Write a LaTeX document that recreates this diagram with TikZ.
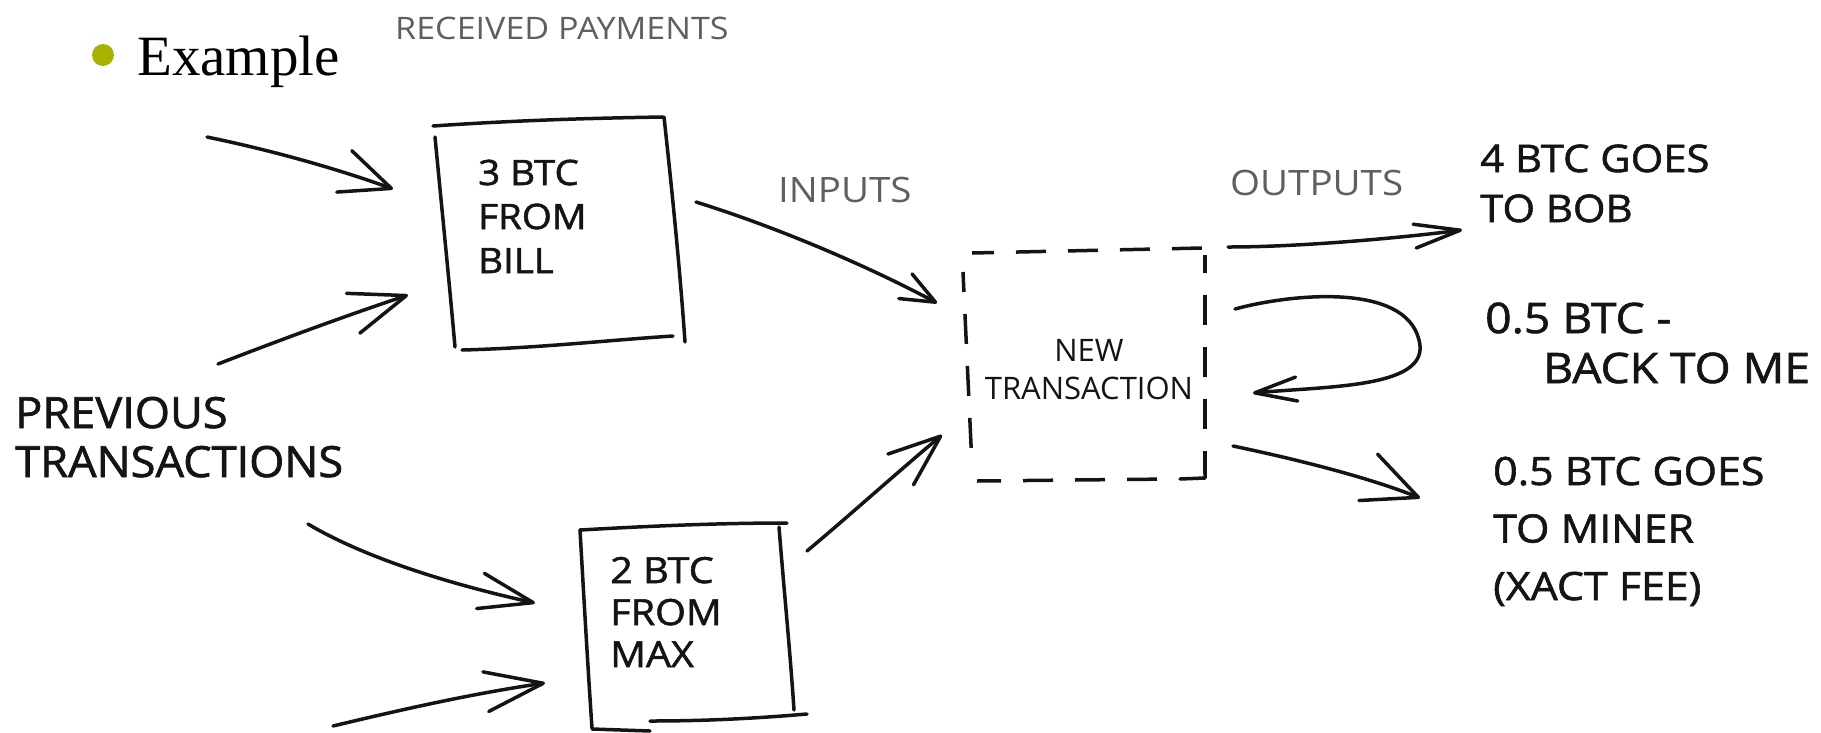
\documentclass[tikz,border=0pt]{standalone}
\usepackage{fontspec}
\setmainfont{Liberation Serif}
\newfontfamily\handfont{Open Sans}[FakeStretch=1.1, FakeBold=1.5]
\newfontfamily\handfontw{Open Sans}[FakeStretch=1.05, FakeBold=1.5]
\newfontfamily\handfontn{Open Sans}
\newfontfamily\captionfont{Open Sans}[FakeStretch=1.1]
\usetikzlibrary{arrows.meta}
\definecolor{bulletolive}{RGB}{168,178,0}
\definecolor{labelgrey}{RGB}{95,95,95}
\definecolor{inkblack}{RGB}{20,20,20}

\tikzset{
  ink/.style={draw=inkblack, line width=3.5pt, line cap=round, line join=round},
  flow/.style 2 args={ink, -{Straight Barb[length=#1pt, width=#2pt, round]}},
  dashedside/.style={ink, line cap=butt, dash pattern=on 30pt off 22pt},
  hand/.style={inner sep=0pt, text=inkblack, anchor=base west},
  greylabel/.style={inner sep=0pt, text=labelgrey, anchor=base west}
}

\begin{document}
\begin{tikzpicture}[x=1pt, y=-1pt]
\useasboundingbox (0,0) rectangle (1821,732);

% heading
\node[circle, fill=bulletolive, minimum size=22pt, inner sep=0pt] (dot) at (103,55) {};
\node[inner sep=0pt, anchor=base west, font=\fontsize{57}{57}\selectfont] (example) at (137,75) {Example};

% captions
\node[greylabel, font={\captionfont\fontsize{31}{32}\selectfont}] (recv) at (395,39) {RECEIVED PAYMENTS};
\node[greylabel, font={\captionfont\fontsize{35}{36}\selectfont}] (inputs) at (778,202) {INPUTS};
\node[greylabel, font={\captionfont\fontsize{35}{36}\selectfont}] (outputs) at (1230,195) {OUTPUTS};

% previous transactions
\node[hand, font={\handfontw\fontsize{43}{49}\selectfont}] (prev) at (15,428)
  {\begin{tabular}[t]{@{}l@{}}PREVIOUS\\TRANSACTIONS\end{tabular}};

% received payment boxes
\draw[ink] (433,126) .. controls (520,120) and (600,118) .. (663,117);
\draw[ink] (664,117) .. controls (672,190) and (680,270) .. (685,342);
\draw[ink] (462,350) .. controls (540,348) and (610,340) .. (673,336);
\draw[ink] (435,137) .. controls (442,210) and (450,290) .. (455,347);
\node[hand, font={\handfont\fontsize{35}{44}\selectfont}] (bill) at (478,185)
  {\begin{tabular}[t]{@{}l@{}}3 BTC\\FROM\\BILL\end{tabular}};

\draw[ink] (580,530) .. controls (650,526) and (720,523) .. (787,523);
\draw[ink] (580,530) .. controls (584,600) and (588,670) .. (592,728);
\draw[ink] (592,729) -- (650,731);
\draw[ink] (650,721) .. controls (710,721) and (760,718) .. (807,714);
\draw[ink] (779,527) .. controls (784,590) and (790,650) .. (794,710);
\node[hand, font={\handfont\fontsize{36}{42}\selectfont}] (max) at (610,583)
  {\begin{tabular}[t]{@{}l@{}}2 BTC\\FROM\\MAX\end{tabular}};

% new transaction (dashed box)
\draw[dashedside, dash phase=8pt] (972,253) -- (1202,248);
\draw[dashedside, dash phase=12pt] (1205,255) -- (1205,474);
\draw[ink] (1205,468) -- (1205,478) -- (1180,479);
\draw[dashedside, dash phase=6pt] (977,481) -- (1172,479);
\draw[dashedside, dash phase=10pt] (963,272) -- (972,466);
\node[inner sep=0pt, text=inkblack, anchor=base, font={\handfontn\fontsize{31}{38}\selectfont}] (ntx) at (1089,361)
  {\begin{tabular}[t]{@{}c@{}}NEW\\TRANSACTION\end{tabular}};

% outcomes
\node[hand, font={\handfont\fontsize{38}{50}\selectfont}] (bob) at (1480,172)
  {\begin{tabular}[t]{@{}l@{}}4 BTC GOES\\TO BOB\end{tabular}};
\node[hand, font={\handfont\fontsize{42}{50}\selectfont}] (back) at (1485,333)
  {\begin{tabular}[t]{@{}l@{}}0.5 BTC -\\\hspace*{58pt}BACK TO ME\end{tabular}};
\node[hand, font={\handfont\fontsize{39}{57.5}\selectfont}] (miner) at (1493,485)
  {\begin{tabular}[t]{@{}l@{}}0.5 BTC GOES\\TO MINER\\(XACT FEE)\end{tabular}};

% connector ends
\coordinate (p1) at (207,137);  \coordinate (b1) at (393,189);
\coordinate (p2) at (218,364);  \coordinate (b2) at (408,295);
\coordinate (p3) at (308,524);  \coordinate (m1) at (535,603);
\coordinate (p4) at (333,726);  \coordinate (m2) at (545,683);
\coordinate (bo) at (696,202);  \coordinate (t1) at (937,303);
\coordinate (mo) at (807,551);  \coordinate (t2) at (942,435);
\coordinate (to1) at (1228,247); \coordinate (r1) at (1462,230);
\coordinate (to2) at (1235,309); \coordinate (r2) at (1253,393);
\coordinate (to3) at (1233,446); \coordinate (r3) at (1420,498);

% inputs
\draw[flow={50}{44}] (p1) .. controls (270,150) and (335,168) .. (b1);
\draw[flow={56}{42}] (p2) .. controls (280,340) and (345,316) .. (b2);
\draw[flow={54}{36}] (p3) .. controls (360,555) and (440,582) .. (m1);
\draw[flow={58}{40}] (p4) .. controls (400,710) and (470,694) .. (m2);
\draw[flow={34}{28}] (bo) .. controls (770,225) and (860,262) .. (t1);
\draw[flow={52}{40}] (mo) .. controls (850,515) and (900,470) .. (t2);

% outputs
\draw[flow={46}{24}] (to1) .. controls (1300,247) and (1400,238) .. (r1);
\draw[flow={42}{24}] (to2) .. controls (1290,294) and (1405,282) .. (1419,340)
  .. controls (1432,388) and (1330,386) .. (r2);
\draw[flow={54}{50}] (to3) .. controls (1300,460) and (1370,478) .. (r3);
\end{tikzpicture}
\end{document}
